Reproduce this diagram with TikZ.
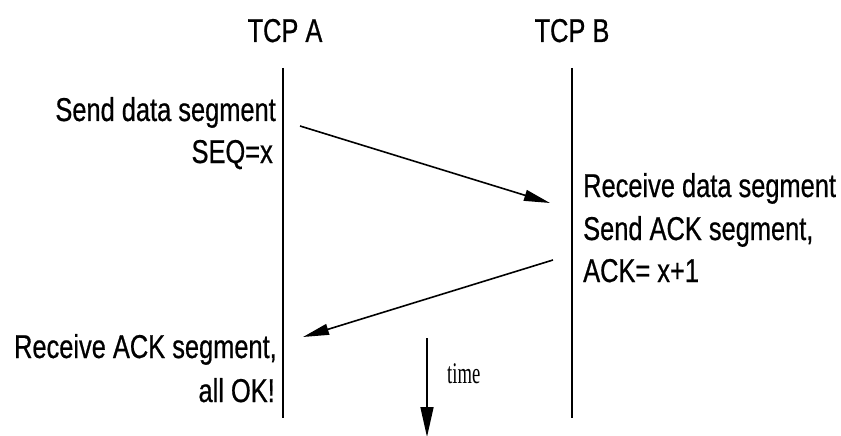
\documentclass[tikz,border=0pt]{standalone}
\usepackage{fontspec}
\setmainfont{Liberation Sans}[FakeStretch=0.77,FakeBold=0.6]
\newfontfamily\timefont{Liberation Serif}[FakeStretch=0.62]
\usetikzlibrary{arrows.meta}
\begin{document}
\begin{tikzpicture}[x=1pt,y=-1pt,
  lbl/.style={inner sep=0pt,font=\fontsize{33}{40}\selectfont},
  life/.style={line width=1.6pt},
  msg/.style={line width=1.6pt,-{Triangle[length=26pt,width=11pt]}}]
\useasboundingbox (0,0) rectangle (841,436);
% headers
\node[lbl,anchor=base] (ha) at (285,42) {TCP A};
\node[lbl,anchor=base] (hb) at (572,42) {TCP B};
% lifelines
\coordinate (a1) at (283,68); \coordinate (a2) at (283,418);
\coordinate (b1) at (572,68); \coordinate (b2) at (572,418);
\draw[life] (a1) -- (a2);
\draw[life] (b1) -- (b2);
% messages
\coordinate (m1s) at (300,126); \coordinate (m1e) at (550,203);
\coordinate (m2s) at (553,260); \coordinate (m2e) at (303,337);
\draw[msg] (m1s) -- (m1e);
\draw[msg] (m2s) -- (m2e);
% time arrow
\coordinate (t1) at (427,338); \coordinate (t2) at (427,437);
\draw[msg,-{Triangle[length=30pt,width=13pt]}] (t1) -- (t2);
\node[inner sep=0pt,anchor=base west,font=\timefont\fontsize{30}{36}\selectfont] (tm) at (447,383) {time};
% labels
\node[lbl,anchor=base east] (s1) at (276,121) {Send data segment};
\node[lbl,anchor=base east] (s2) at (273,163) {SEQ=x};
\node[lbl,anchor=base west] (r1) at (583,197) {Receive data segment};
\node[lbl,anchor=base west] (r2) at (583,240) {Send ACK segment,};
\node[lbl,anchor=base west] (r3) at (583,282) {ACK= x+1};
\node[lbl,anchor=base east] (k1) at (277,358) {Receive ACK segment,};
\node[lbl,anchor=base east] (k2) at (275,402) {all OK!};
\end{tikzpicture}
\end{document}
